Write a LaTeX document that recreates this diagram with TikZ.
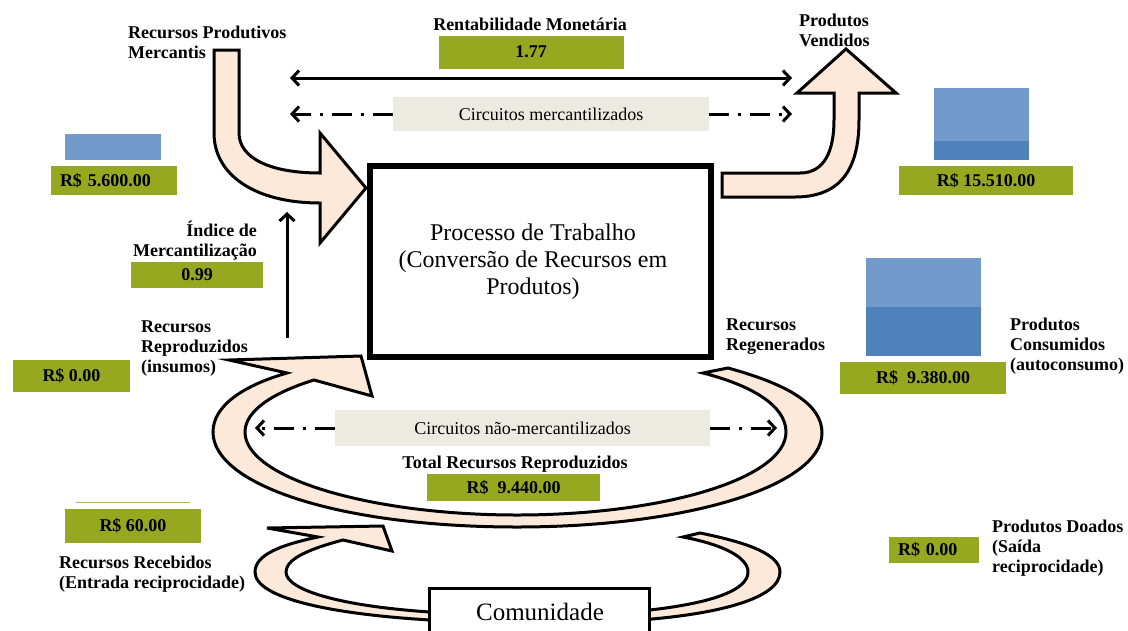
\documentclass[tikz,border=0pt]{standalone}
\usepackage{fontspec}
\setmainfont{Liberation Serif}
\usetikzlibrary{arrows.meta}
\definecolor{valgreen}{RGB}{149,168,32}
\definecolor{thingreen}{RGB}{160,190,90}
\definecolor{barlight}{RGB}{114,154,203}
\definecolor{bardark}{RGB}{79,129,189}
\definecolor{flowfill}{RGB}{253,233,217}
\definecolor{circfill}{RGB}{237,235,225}
\newcommand{\colL}[1]{\begin{tabular}[t]{@{}l@{}}#1\end{tabular}}
\newcommand{\colR}[1]{\begin{tabular}[t]{@{}r@{}}#1\end{tabular}}
\begin{document}
\begin{tikzpicture}[x=1pt,y=-1pt,
  lbl/.style={font=\fontsize{18}{20}\selectfont\bfseries, inner sep=0pt},
  valbox/.style={fill=valgreen, font=\fontsize{18}{20}\selectfont\bfseries, inner sep=0pt},
  circbox/.style={fill=circfill, font=\fontsize{18}{20}\selectfont, inner sep=0pt},
  flow/.style={fill=flowfill, draw=black, line width=3pt, line join=miter},
  link/.style={line width=3pt, -{Straight Barb[length=7pt,width=15pt]}},
  dlink/.style={line width=3pt, {Straight Barb[length=7pt,width=15pt]}-{Straight Barb[length=7pt,width=15pt]}},
  dashlink/.style={link, dash pattern=on 20pt off 9pt on 3pt off 9pt},
]
\useasboundingbox (0,0) rectangle (1128,630);

% ---- flow arrows (bent and circular) ----
% incoming market resources
\path[flow] (214,50) -- (239,50) -- (239,133)
  .. controls (239,158) and (270,173) .. (320,173) -- (320,133) -- (366,188)
  -- (320,243) -- (320,203) .. controls (255,203) and (214,175) .. (214,133) -- cycle;
% products sold
\path[flow] (722,173) -- (800,173) .. controls (825,173) and (834,150) .. (834,120)
  -- (834,93) -- (797,93) -- (846,49) -- (896,93) -- (859,93) -- (859,120)
  .. controls (859,170) and (840,197) .. (795,197) -- (722,197) -- cycle;
% reproduction loop
\path[flow] (703,373) -- (728,368) .. controls (790,385) and (822,405) .. (822,433)
  .. controls (822,485) and (690,527) .. (517,527)
  .. controls (340,527) and (213,485) .. (213,432)
  .. controls (213,405) and (245,385) .. (287,373)
  -- (229,360) -- (361,356) -- (372,396) -- (314,380)
  .. controls (275,392) and (245,410) .. (245,432)
  .. controls (245,478) and (370,515) .. (517,515)
  .. controls (665,515) and (786,478) .. (786,432)
  .. controls (786,405) and (750,385) .. (703,373) -- cycle;
% reciprocity loop
\path[flow] (683,537) -- (700,533) .. controls (750,543) and (780,555) .. (780,572)
  .. controls (780,598) and (720,614) .. (640,620) -- (430,620)
  .. controls (330,614) and (255,598) .. (255,572)
  .. controls (255,555) and (280,545) .. (318,537)
  -- (267,528) -- (383,526) -- (392,551) -- (343,540)
  .. controls (305,550) and (286,560) .. (286,572)
  .. controls (286,590) and (340,606) .. (430,612) -- (640,611)
  .. controls (712,604) and (748,590) .. (748,572)
  .. controls (748,558) and (725,545) .. (683,537) -- cycle;

% ---- central boxes ----
\node[draw, fill=white, line width=6pt, minimum width=341pt, minimum height=191pt, inner sep=0pt] (proc) at (540.5,261.5) {};
\node[font=\fontsize{24}{27}\selectfont, align=center, inner sep=0pt] (proctxt) at (533,262)
  {Processo de Trabalho\\(Conversão de Recursos em\\Produtos)};
\node[draw, fill=white, line width=3pt, minimum width=220pt, minimum height=80pt, anchor=north, inner sep=0pt] (com) at (539.5,586.5) {};
\node[font=\fontsize{25}{28}\selectfont, anchor=base, inner sep=0pt] (comtxt) at (540,620) {Comunidade};

% ---- market circuit ----
\node[lbl, anchor=base] (rmlbl) at (530,30) {Rentabilidade Monetária};
\node[valbox, minimum width=185pt, minimum height=33pt] (rm) at (531,52) {1.77};
\coordinate (rmL) at (290,78);
\coordinate (rmR) at (792,78);
\draw[dlink] (rmL) -- (rmR);
\node[circbox, minimum width=316pt, minimum height=34pt] (cm) at (551,114) {Circuitos mercantilizados};
\coordinate (cmL) at (290,114);
\coordinate (cmR) at (792,114);
\draw[dashlink] (cm.west) -- (cmL);
\draw[dashlink] (cm.east) -- (cmR);

% ---- non-market circuit ----
\node[circbox, minimum width=375pt, minimum height=36pt] (cnm) at (522.5,428) {Circuitos não-mercantilizados};
\coordinate (cnmL) at (255,428);
\coordinate (cnmR) at (777,428);
\draw[dashlink] (cnm.west) -- (cnmL);
\draw[dashlink] (cnm.east) -- (cnmR);
\node[lbl, anchor=base] (trlbl) at (515,468) {Total Recursos Reproduzidos};
\node[valbox, minimum width=173pt, minimum height=27pt] (tr) at (513.5,487.5) {R\$\ \ 9.440.00};

% ---- labels ----
\node[lbl, anchor=base west] (rpm) at (128,38) {\colL{Recursos Produtivos\\Mercantis}};
\node[lbl, anchor=base west] (pv) at (799,26) {\colL{Produtos\\Vendidos}};
\node[lbl, anchor=base east] (im) at (257,236) {\colR{Índice de\\Mercantilização}};
\node[lbl, anchor=base west] (rr) at (141,332) {\colL{Recursos\\Reproduzidos\\(insumos)}};
\node[lbl, anchor=base west] (rg) at (726,330) {\colL{Recursos\\Regenerados}};
\node[lbl, anchor=base west] (pc) at (1010,330) {\colL{Produtos\\Consumidos\\(autoconsumo)}};
\node[lbl, anchor=base west] (rrec) at (59,568) {\colL{Recursos Recebidos\\(Entrada reciprocidade)}};
\node[lbl, anchor=base west] (pd) at (992,532) {\colL{Produtos Doados\\(Saída\\reciprocidade)}};

% ---- index arrow ----
\coordinate (imB) at (287,338);
\coordinate (imT) at (287,212);
\draw[link] (imB) -- (imT);

% ---- bars and values ----
\fill[barlight] (65,134) rectangle (161,160);
\node[valbox, minimum width=126pt, minimum height=29pt, text width=108pt, align=left, inner xsep=9pt] (v1) at (114,180.5) {R\$ 5.600.00};

\fill[barlight] (934,88) rectangle (1029,141);
\fill[bardark] (934,141) rectangle (1029,160);
\node[valbox, minimum width=174pt, minimum height=29pt] (v2) at (986,180.5) {R\$ 15.510.00};

\fill[barlight] (866,258) rectangle (981,307);
\fill[bardark] (866,307) rectangle (981,356);
\node[valbox, minimum width=166pt, minimum height=32pt] (v3) at (923,378) {R\$\ \ 9.380.00};

\node[valbox, minimum width=132pt, minimum height=26pt] (v4) at (197,275) {0.99};
\node[valbox, minimum width=117pt, minimum height=32pt] (v5) at (71.5,376) {R\$ 0.00};

\draw[thingreen, line width=1pt] (76,502) -- (190,502);
\node[valbox, minimum width=136pt, minimum height=34pt] (v6) at (133,526) {R\$ 60.00};
\node[valbox, minimum width=90pt, minimum height=26pt, text width=72pt, align=left, inner xsep=9pt] (v7) at (934,550) {R\$ 0.00};
\end{tikzpicture}
\end{document}
